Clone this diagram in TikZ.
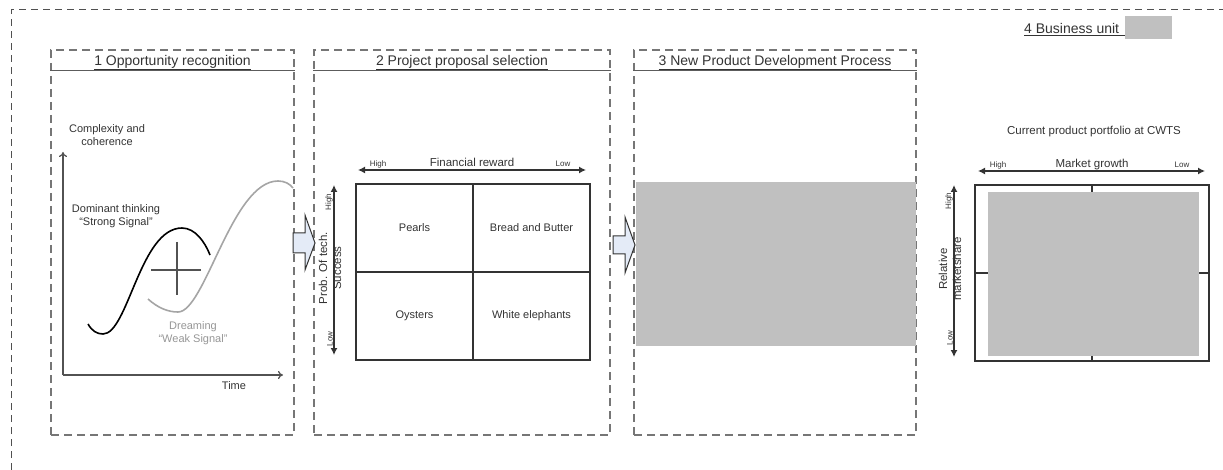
\documentclass[tikz,border=0pt]{standalone}
\usepackage{fontspec}
\setmainfont{Liberation Sans}
\usetikzlibrary{arrows.meta}

\definecolor{ink}{RGB}{51,51,51}
\definecolor{panelgray}{RGB}{118,118,118}
\definecolor{framegray}{RGB}{80,80,80}
\definecolor{blockfill}{RGB}{228,235,247}
\definecolor{maskgray}{RGB}{192,192,192}
\definecolor{dreamgray}{RGB}{150,150,150}
\definecolor{weakcurve}{RGB}{165,165,165}

\begin{document}
\begin{tikzpicture}[x=1pt,y=-1pt,
  every node/.style={text=ink, inner sep=1pt},
  panel/.style={draw=panelgray, line width=1.3pt, dash pattern=on 8pt off 5pt},
  frame/.style={draw=framegray, line width=1pt, dash pattern=on 7pt off 5pt},
  titleline/.style={draw=ink!80, line width=1.4pt},
  titletext/.style={font=\fontsize{14}{16}\selectfont},
  label/.style={font=\fontsize{11}{13.5}\selectfont, align=center},
  biglabel/.style={font=\fontsize{11.5}{14}\selectfont, align=center},
  tiny/.style={font=\fontsize{8}{9}\selectfont},
  cell/.style={draw=ink, line width=1.3pt, minimum width=117pt, minimum height=88pt,
               font=\fontsize{11}{13}\selectfont},
  axis/.style={draw=ink!85, line width=1.2pt, -{To[length=5pt,width=8pt]}},
  dimarrow/.style={draw=ink, line width=1.3pt, {Latex[length=7pt,width=7pt]}-{Latex[length=7pt,width=7pt]}},
  blockarrow/.style={draw=ink, line width=1pt, fill=blockfill, line join=miter},
  mask/.style={fill=maskgray, draw=none}]

\useasboundingbox (0,0) rectangle (1223,470);

% outer frame, open to the right and bottom
\coordinate (fTL) at (11,10);
\coordinate (fTR) at (1223,10);
\coordinate (fBL) at (11,470);
\draw[frame] (fBL) -- (fTL) -- (fTR);

% ---------- stage panels ----------
\node[panel, minimum width=243pt, minimum height=385pt] (p1) at (172.5,242.5) {};
\node[panel, minimum width=296pt, minimum height=385pt] (p2) at (462,242.5) {};
\node[panel, minimum width=282pt, minimum height=385pt] (p3) at (775,242.5) {};

\foreach \p in {p1,p2,p3}
  \draw[titleline] ([yshift=-21pt]\p.north west) -- ([yshift=-21pt]\p.north east);

\node[titletext, anchor=base] (t1) at ([yshift=-16pt]p1.north) {\underline{1 Opportunity recognition}};
\node[titletext, anchor=base] (t2) at ([yshift=-16pt]p2.north) {\underline{2 Project proposal selection}};
\node[titletext, anchor=base] (t3) at ([yshift=-16pt]p3.north) {\underline{3 New Product Development Process}};

% ---------- block arrows between stages ----------
\draw[blockarrow] (293,233) -- (305,233) -- (305,215) -- (315,243) -- (305,270) -- (305,253) -- (293,253) -- cycle;
\draw[blockarrow] (613,236) -- (625,236) -- (625,217) -- (635,245) -- (625,273) -- (625,254) -- (613,254) -- cycle;

% ---------- 1: opportunity recognition chart ----------
\coordinate (origin) at (63,375);
\coordinate (ytop) at (63,152);
\coordinate (xend) at (283,375);
\draw[axis] (origin) -- (ytop);
\draw[axis] (origin) -- (xend);
\node[label] (ylab) at (107,135) {Complexity and\\coherence};
\node[label] (xlab) at (234,386) {Time};

% strong signal curve
\draw[black, line width=1.6pt]
  (88,324) .. controls (92,331) and (97,334) .. (103,334)
  .. controls (128,334) and (140,228) .. (182,228)
  .. controls (195,228) and (205,242) .. (210,255);
% weak signal curve
\draw[weakcurve, line width=1.6pt]
  (148,299) .. controls (158,308) and (168,312) .. (178,312)
  .. controls (205,312) and (232,181) .. (278,181)
  .. controls (285,181) and (290,184) .. (293,188);
% cross
\draw[ink!85, line width=1.2pt] (151,270) -- (201,270) (177,242) -- (177,295);

\node[label] (strong) at (116,216) {Dominant thinking\\“Strong Signal”};
\node[label, text=dreamgray] (weak) at (193,333) {Dreaming\\“Weak Signal”};

% ---------- 2: project proposal matrix ----------
\node[cell] (pearls) at (414.5,228) {Pearls};
\node[cell] (bread)  at (531.5,228) {Bread and Butter};
\node[cell] (oyst)   at (414.5,316) {Oysters};
\node[cell] (white)  at (531.5,316) {White elephants};

\coordinate (frL) at (358,170);
\coordinate (frR) at (586,170);
\draw[dimarrow] (frL) -- (frR);
\node[tiny, anchor=base] (frHigh) at (378,167) {High};
\node[biglabel, anchor=base] (frLab) at (472,167) {Financial reward};
\node[tiny, anchor=base] (frLow) at (563,167) {Low};

\coordinate (ptT) at (334,185);
\coordinate (ptB) at (334,355);
\draw[dimarrow] (ptT) -- (ptB);
\node[tiny, rotate=90, anchor=south] (ptHigh) at (334,202) {High};
\node[tiny, rotate=90, anchor=south] (ptLow) at (334,339) {Low};
\node[biglabel, rotate=90] (ptLab) at (330,268) {Prob. Of tech.\\Success};

% ---------- 3: new product development (masked) ----------
\node[mask, minimum width=280pt, minimum height=164pt] (npd) at (776,264) {};

% ---------- 4: business unit ----------
\node[titletext, anchor=base west, inner sep=0pt] (t4) at (1024,34) {\underline{4 Business unit\hphantom{x}}};
\node[mask, minimum width=47pt, minimum height=23pt] (bu) at (1148.5,27.5) {};

\node[biglabel] (cur) at (1094,132) {Current product portfolio at CWTS};

\node[cell] (q1) at (1033.5,229) {};
\node[cell] (q2) at (1150.5,229) {};
\node[cell] (q3) at (1033.5,317) {};
\node[cell] (q4) at (1150.5,317) {};
\node[mask, minimum width=211pt, minimum height=164pt] (bcg) at (1093.5,274) {};

\coordinate (mgL) at (978,171);
\coordinate (mgR) at (1205,171);
\draw[dimarrow] (mgL) -- (mgR);
\node[tiny, anchor=base] (mgHigh) at (998,168) {High};
\node[biglabel, anchor=base] (mgLab) at (1092,168) {Market growth};
\node[tiny, anchor=base] (mgLow) at (1182,168) {Low};

\coordinate (rmT) at (954,185);
\coordinate (rmB) at (954,357);
\draw[dimarrow] (rmT) -- (rmB);
\node[tiny, rotate=90, anchor=south] (rmHigh) at (954,201) {High};
\node[tiny, rotate=90, anchor=south] (rmLow) at (954,338) {Low};
\node[biglabel, rotate=90] (rmLab) at (950,269) {Relative\\marketshare};

\end{tikzpicture}
\end{document}
